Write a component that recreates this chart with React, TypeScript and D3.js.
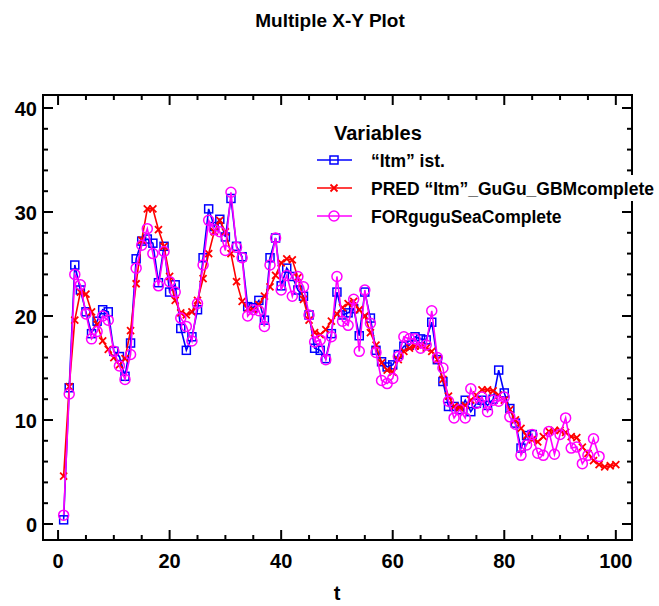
import * as d3 from "d3";

const TITLE = "Multiple X-Y Plot";
const X_LABEL = "t";
const LEGEND_TITLE = "Variables";
const SERIES_NAMES = ["“Itm” ist.", "PRED “Itm”_GuGu_GBMcomplete", "FORguguSeaComplete"];
const X_TICKS = [0, 20, 40, 60, 80, 100];
const Y_TICKS = [0, 10, 20, 30, 40];

// observed, t = 1..85
const itmIst = [
  0.4, 13.1, 24.9, 22.5, 20.4, 18.3, 19.5, 20.6, 20.4, 16.6,
  16.1, 14.2, 17.4, 25.5, 27.2, 27.4, 27.0, 23.2, 26.7, 22.3,
  23.0, 18.8, 16.7, 18.0, 20.6, 25.6, 30.3, 28.6, 29.3, 27.6,
  31.3, 26.7, 25.7, 20.9, 20.8, 21.5, 19.6, 25.6, 27.5, 22.9,
  24.6, 23.8, 22.5, 21.9, 20.1, 16.9, 16.7, 15.9, 18.3, 22.3,
  20.1, 20.3, 20.7, 18.1, 22.3, 19.8, 16.7, 15.6, 15.1, 15.3,
  16.3, 17.1, 17.2, 18.0, 17.8, 17.7, 19.4, 15.8, 13.7, 11.3,
  11.3, 11.0, 11.9, 10.8, 11.6, 11.9, 11.4, 12.0, 14.8, 12.6,
  11.1, 9.7, 7.3, 8.5, 8.6,
];

// model prediction, t = 1..100
const predItm = [
  4.6, 13.2, 19.6, 22.3, 22.1, 20.4, 19.2, 17.6, 16.8, 16.0,
  15.3, 15.9, 18.6, 23.1, 27.3, 30.3, 30.3, 28.3, 26.7, 23.8,
  21.5, 20.3, 20.1, 20.4, 21.5, 23.6, 26.0, 28.1, 29.2, 28.1,
  26.0, 23.3, 21.4, 20.7, 20.6, 21.1, 21.9, 22.8, 23.9, 25.1,
  25.5, 25.4, 23.7, 21.6, 19.6, 18.4, 18.2, 18.7, 19.5, 20.2,
  20.8, 21.2, 21.4, 20.6, 20.0, 18.4, 17.2, 15.5, 14.8, 14.6,
  15.8, 16.6, 16.9, 17.1, 17.1, 16.9, 16.6, 15.8, 13.9, 12.3,
  11.3, 11.2, 11.4, 11.9, 12.4, 12.9, 12.9, 12.8, 12.4, 11.9,
  11.0, 10.0, 9.2, 8.5, 8.1, 7.9, 8.4, 8.9, 9.0, 9.0,
  8.8, 8.4, 8.3, 7.4, 6.8, 6.1, 5.7, 5.5, 5.6, 5.7,
];

// forecast, t = 1..97
const forSea = [
  0.85, 12.5, 24.0, 23.0, 20.2, 17.8, 18.5, 20.0, 19.6, 16.6,
  15.2, 13.9, 16.3, 24.6, 26.8, 28.4, 26.0, 22.9, 26.2, 23.3,
  22.3, 19.8, 19.0, 17.6, 21.2, 24.9, 29.2, 28.3, 28.1, 26.3,
  31.9, 26.6, 25.6, 20.0, 20.6, 20.5, 19.0, 24.9, 27.5, 22.5,
  23.9, 21.9, 23.8, 22.8, 20.1, 17.5, 17.7, 15.8, 18.0, 23.8,
  19.5, 19.1, 21.6, 16.6, 22.5, 19.3, 16.5, 13.8, 13.5, 14.0,
  16.1, 18.0, 17.8, 17.8, 16.9, 17.2, 20.5, 16.0, 15.0, 11.8,
  10.2, 11.0, 10.2, 13.0, 11.6, 12.2, 10.8, 11.9, 11.8, 12.2,
  10.3, 9.6, 6.6, 7.6, 8.6, 6.8, 6.6, 8.9, 6.7, 8.6,
  10.2, 7.3, 7.4, 5.8, 6.6, 8.2, 6.5,
];

const BLUE = "#0000ff";
const RED = "#ff0000";
const MAGENTA = "#ff00ff";
const FONT = "'Liberation Sans', Arial, sans-serif";

type Pt = { t: number; v: number };
const toPts = (arr: number[]): Pt[] => arr.map((v, i) => ({ t: i + 1, v }));

function Marker({ kind, x, y, color }: { kind: string; x: number; y: number; color: string }) {
  if (kind === "square")
    return <rect x={x - 4} y={y - 4} width={8} height={8} fill="none" stroke={color} strokeWidth={1.5} />;
  if (kind === "cross")
    return (
      <path
        d={`M${x - 3.5},${y - 3.5}L${x + 3.5},${y + 3.5}M${x - 3.5},${y + 3.5}L${x + 3.5},${y - 3.5}`}
        stroke={color}
        strokeWidth={1.8}
      />
    );
  return <circle cx={x} cy={y} r={5} fill="none" stroke={color} strokeWidth={1.5} />;
}

export default function App() {
  const width = 659;
  const height = 606;
  const frame = { left: 43, right: 632, top: 95, bottom: 540 };

  const x = d3.scaleLinear().domain([-2.7, 102.9]).range([frame.left, frame.right]);
  const y = d3.scaleLinear().domain([-1.54, 41.25]).range([frame.bottom, frame.top]);

  const line = d3
    .line<Pt>()
    .x((d) => x(d.t))
    .y((d) => y(d.v));

  const series = [
    { name: SERIES_NAMES[0], color: BLUE, kind: "square", pts: toPts(itmIst) },
    { name: SERIES_NAMES[1], color: RED, kind: "cross", pts: toPts(predItm) },
    { name: SERIES_NAMES[2], color: MAGENTA, kind: "circle", pts: toPts(forSea) },
  ];

  const xMinor = d3.range(0, 101, 5).filter((v) => v % 20 !== 0);
  const yMinor = d3.range(0, 41, 2).filter((v) => v % 10 !== 0);

  return (
    <svg
      width={width}
      height={height}
      style={{ position: "absolute", left: 0, top: 0, background: "#fff" }}
      fontFamily={FONT}
    >
      <text x={330} y={27} textAnchor="middle" fontSize={19} fontWeight="bold">
        {TITLE}
      </text>

      {/* series */}
      {series.map((s) => (
        <g key={s.name}>
          <path d={line(s.pts) ?? ""} fill="none" stroke={s.color} strokeWidth={1.6} />
          {s.pts.map((p) => (
            <Marker key={p.t} kind={s.kind} x={x(p.t)} y={y(p.v)} color={s.color} />
          ))}
        </g>
      ))}

      {/* frame and ticks */}
      <g stroke="#000" strokeWidth={2}>
        <rect
          x={frame.left}
          y={frame.top}
          width={frame.right - frame.left}
          height={frame.bottom - frame.top}
          fill="none"
        />
        {X_TICKS.map((v) => (
          <g key={"xm" + v}>
            <line x1={x(v)} x2={x(v)} y1={frame.bottom} y2={frame.bottom - 10} />
            <line x1={x(v)} x2={x(v)} y1={frame.top} y2={frame.top + 10} />
          </g>
        ))}
        {xMinor.map((v) => (
          <g key={"xn" + v}>
            <line x1={x(v)} x2={x(v)} y1={frame.bottom} y2={frame.bottom - 5} />
            <line x1={x(v)} x2={x(v)} y1={frame.top} y2={frame.top + 5} />
          </g>
        ))}
        {Y_TICKS.map((v) => (
          <g key={"ym" + v}>
            <line x1={frame.left} x2={frame.left + 10} y1={y(v)} y2={y(v)} />
            <line x1={frame.right} x2={frame.right - 10} y1={y(v)} y2={y(v)} />
          </g>
        ))}
        {yMinor.map((v) => (
          <g key={"yn" + v}>
            <line x1={frame.left} x2={frame.left + 5} y1={y(v)} y2={y(v)} />
            <line x1={frame.right} x2={frame.right - 5} y1={y(v)} y2={y(v)} />
          </g>
        ))}
      </g>

      {/* tick labels */}
      {X_TICKS.map((v) => (
        <text key={"xl" + v} x={x(v)} y={568} textAnchor="middle" fontSize={20} fontWeight="bold">
          {v}
        </text>
      ))}
      {Y_TICKS.map((v) => (
        <text key={"yl" + v} x={37} y={y(v) + 8} textAnchor="end" fontSize={20} fontWeight="bold">
          {v}
        </text>
      ))}
      <text x={337} y={600} textAnchor="middle" fontSize={20} fontWeight="bold">
        {X_LABEL}
      </text>

      {/* legend */}
      <text x={334} y={140} fontSize={20} fontWeight="bold">
        {LEGEND_TITLE}
      </text>
      {series.map((s, i) => {
        const cy = 160 + i * 28;
        return (
          <g key={"lg" + i}>
            <rect x={366} y={cy - 13} width={292} height={26} fill="#fff" opacity={i === 1 ? 1 : 0} />
            <line x1={317} x2={352} y1={cy} y2={cy} stroke={s.color} strokeWidth={1.6} />
            <Marker kind={s.kind} x={334} y={cy} color={s.color} />
            <text x={371} y={cy + 6.5} fontSize={17.5} fontWeight="bold">
              {s.name}
            </text>
          </g>
        );
      })}
    </svg>
  );
}
